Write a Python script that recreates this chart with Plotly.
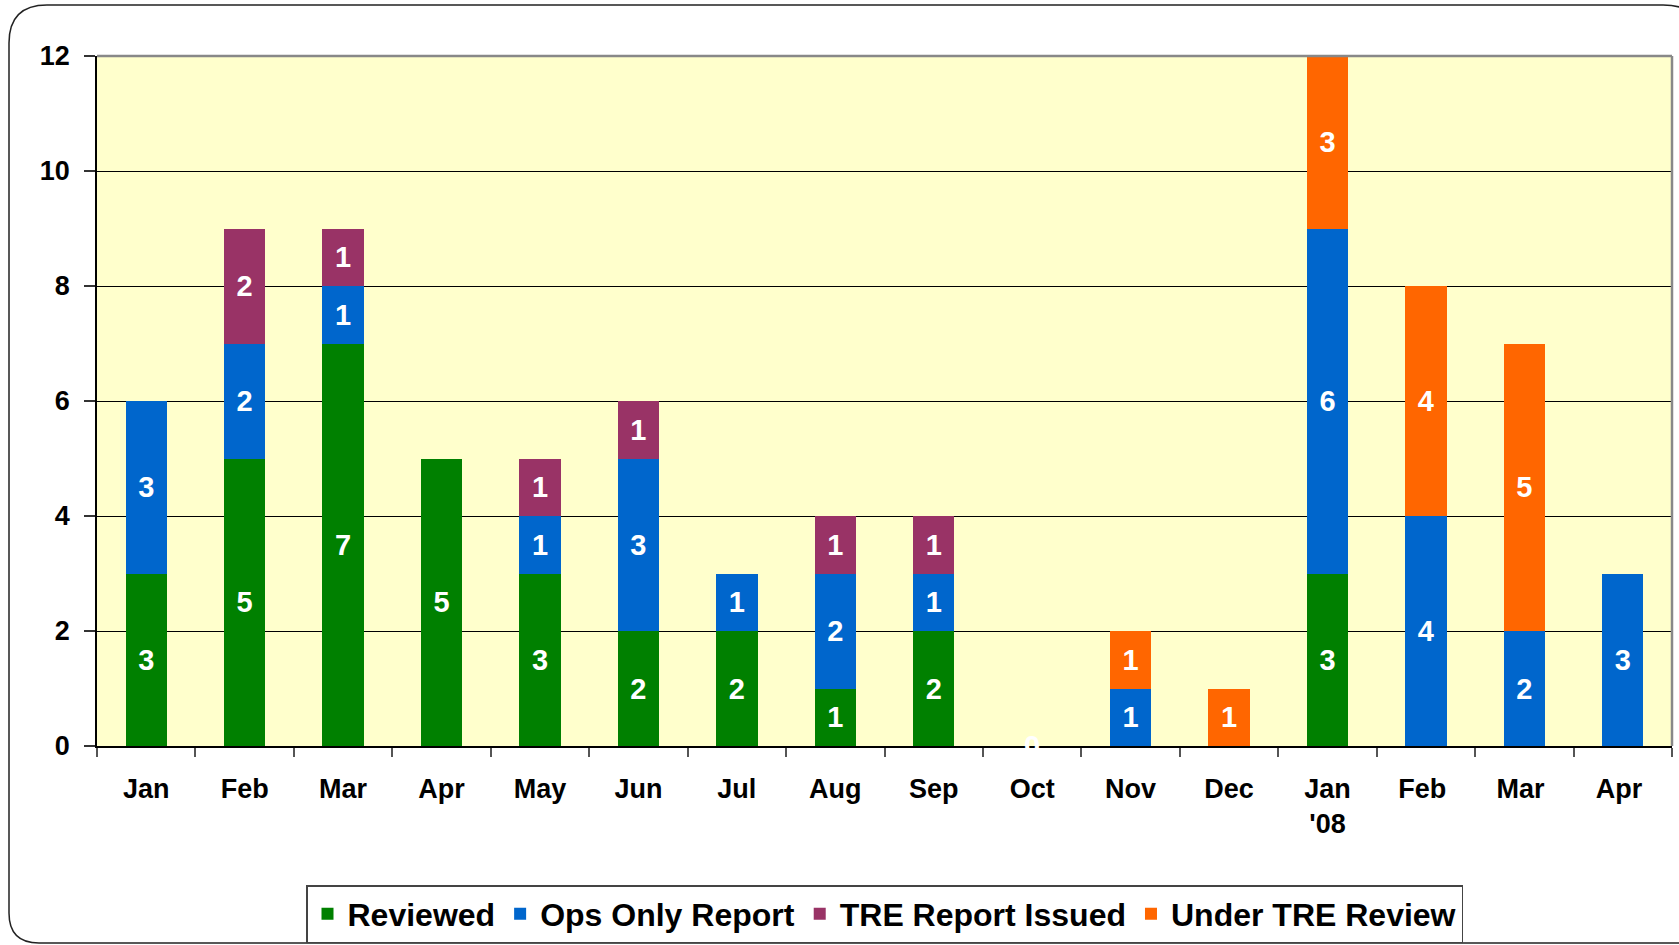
import plotly.graph_objects as go

categories = ["Jan", "Feb", "Mar", "Apr", "May", "Jun", "Jul", "Aug", "Sep",
              "Oct", "Nov", "Dec", "Jan<br>'08", "Feb ", "Mar ", "Apr "]
reviewed = [3, 5, 7, 5, 3, 2, 2, 1, 2, 0, 0, 0, 3, 0, 0, 0]
ops_only = [3, 2, 1, 0, 1, 3, 1, 2, 1, 0, 1, 0, 6, 4, 2, 3]
tre_issued = [0, 2, 1, 0, 1, 1, 0, 1, 1, 0, 0, 0, 0, 0, 0, 0]
under_review = [0, 0, 0, 0, 0, 0, 0, 0, 0, 0, 1, 1, 3, 4, 5, 0]
y_ticks = [0, 2, 4, 6, 8, 10, 12]

series = [
    ("Reviewed", reviewed, "#008000"),
    ("Ops Only Report", ops_only, "#0066CC"),
    ("TRE Report Issued", tre_issued, "#993366"),
    ("Under TRE Review", under_review, "#FF6600"),
]

W, H = 1679, 945
L, R, T, B = 97, 1672, 56, 746

FONT = "Liberation Sans, Arial, sans-serif"

fig = go.Figure()
for name, vals, color in series:
    fig.add_trace(go.Bar(
        name=name, x=categories, y=vals,
        marker=dict(color=color, line=dict(width=0)),
        text=[str(v) if v else "" for v in vals],
        textposition="inside", insidetextanchor="middle",
        textfont=dict(color="white", size=29, family=FONT, weight="bold"),
        constraintext="none",
    ))

# zero-total category label
annotations = []
for i, c in enumerate(categories):
    tot = reviewed[i] + ops_only[i] + tre_issued[i] + under_review[i]
    if tot == 0:
        annotations.append(dict(x=c, y=0, xref="x", yref="y", text="<b>0</b>",
                                showarrow=False, yanchor="middle",
                                font=dict(color="white", size=29, family=FONT)))

def px(x):
    return (x - L) / (R - L)

def py(y):
    return (B - y) / (B - T)

# outer rounded frame
x0, x1, y0, y1 = 9, 1705, 5, 943
r1, r2 = 38, 30
path = (f"M {px(x0)} {py(y0 + r1)} Q {px(x0)} {py(y0)} {px(x0 + r1)} {py(y0)} "
        f"L {px(x1 - 42)} {py(y0)} Q {px(x1)} {py(y0)} {px(x1)} {py(y0 + 42)} "
        f"L {px(x1)} {py(y1)} L {px(x0 + r2)} {py(y1)} "
        f"Q {px(x0)} {py(y1)} {px(x0)} {py(y1 - r2)} Z")

shapes = [
    dict(type="path", xref="paper", yref="paper", path=path,
         line=dict(color="#222222", width=1.5), layer="below"),
    dict(type="line", xref="paper", yref="paper", x0=0, x1=1, y0=1, y1=1,
         line=dict(color="#888888", width=2.5)),
    dict(type="line", xref="paper", yref="paper", x0=1, x1=1, y0=0, y1=1,
         line=dict(color="#888888", width=2.5)),
]

fig.update_layout(
    width=W, height=H,
    margin=dict(l=L, r=W - R, t=T, b=H - B, autoexpand=False),
    barmode="stack", bargap=0.58,
    paper_bgcolor="white", plot_bgcolor="#FFFFCC",
    font=dict(family=FONT, color="black"),
    showlegend=True,
    legend=dict(orientation="h", x=0.5, xanchor="center",
                y=py(885), yanchor="top", traceorder="normal",
                bordercolor="#444444", borderwidth=1.5, bgcolor="white",
                font=dict(size=32, family=FONT, weight="bold"),
                itemsizing="constant", tracegroupgap=0, itemwidth=30),
    shapes=shapes,
    annotations=annotations,
)
fig.update_xaxes(
    type="category", tickson="boundaries", ticks="outside", ticklen=9,
    tickcolor="#555555", tickwidth=1.5,
    showline=True, linecolor="black", linewidth=1.5,
    tickfont=dict(size=27, family=FONT, weight="bold"),
    ticklabelstandoff=18, showgrid=False,
)
fig.update_yaxes(
    range=[0, 12], tickvals=y_ticks, ticktext=[str(v) for v in y_ticks],
    ticks="outside", ticklen=11, tickcolor="#333333", tickwidth=1.5,
    showline=True, linecolor="black", linewidth=1.5,
    showgrid=True, gridcolor="black", gridwidth=1,
    zeroline=False,
    tickfont=dict(size=27, family=FONT, weight="bold"),
    ticklabelstandoff=9,
)

fig.write_html("out.html", config={"displayModeBar": False},
               post_script="document.body.style.margin='0';document.body.style.overflow='hidden';")
